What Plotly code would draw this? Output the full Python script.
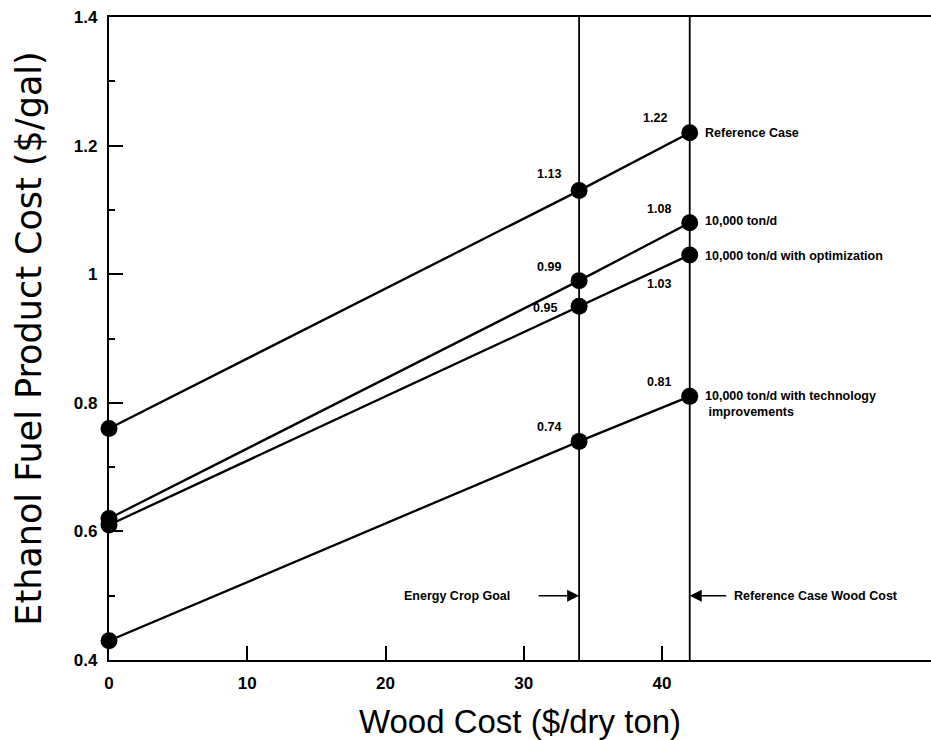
import plotly.graph_objects as go

# ---- data ----
wood_cost = [0, 34, 42]
reference_case = [0.76, 1.13, 1.22]
ton_10000 = [0.62, 0.99, 1.08]
ton_10000_opt = [0.61, 0.95, 1.03]
ton_10000_tech = [0.43, 0.74, 0.81]

series_names = ["Reference Case", "10,000 ton/d", "10,000 ton/d with optimization",
                "10,000 ton/d with technology<br>&nbsp;improvements"]
series_values = [reference_case, ton_10000, ton_10000_opt, ton_10000_tech]

x_tickvals = [0, 10, 20, 30, 40]
y_tickvals = [0.4, 0.6, 0.8, 1.0, 1.2, 1.4]
y_ticktext = ["0.4", "0.6", "0.8", "1", "1.2", "1.4"]
y_minor_tickvals = [0.5, 0.7, 0.9, 1.1, 1.3]

energy_crop_goal = 34
reference_wood_cost = 42

fig = go.Figure()

for name, vals in zip(series_names, series_values):
    fig.add_trace(go.Scatter(
        x=wood_cost, y=vals, mode="lines+markers", name=name,
        line=dict(color="black", width=2.3),
        marker=dict(color="black", size=17),
        showlegend=False, cliponaxis=False,
    ))

# vertical reference lines
for xv in [energy_crop_goal, reference_wood_cost]:
    fig.add_shape(type="line", x0=xv, x1=xv, y0=0, y1=1, xref="x", yref="paper",
                  line=dict(color="black", width=1.8), layer="below")

lab_font = dict(family="Liberation Sans, Arial", size=12.5, color="black", weight="bold")

# value labels: (series index, point index, xshift, yshift)
value_label_offsets = [
    (0, 1, -30, 17), (0, 2, -35, 15),
    (1, 1, -30, 14), (1, 2, -31, 14),
    (2, 1, -34, -2), (2, 2, -31, -29),
    (3, 1, -30, 14), (3, 2, -31, 14),
]
for si, pi, dx, dy in value_label_offsets:
    v = series_values[si][pi]
    fig.add_annotation(x=wood_cost[pi], y=v, text=f"{v:.2f}", showarrow=False,
                       xshift=dx, yshift=dy, font=lab_font)

# series labels
series_label_yshift = [0, 2, -1, -8]
for name, vals, dy in zip(series_names, series_values, series_label_yshift):
    fig.add_annotation(x=wood_cost[-1], y=vals[-1], text=name, showarrow=False,
                       xanchor="left", align="left", xshift=13, yshift=dy, font=lab_font)

# arrows
fig.add_annotation(x=energy_crop_goal, y=0.5, ax=-42, ay=0, text="", showarrow=True,
                   arrowhead=2, arrowsize=1.6, arrowwidth=1.5, arrowcolor="black")
fig.add_annotation(x=energy_crop_goal, y=0.5, text="Energy Crop Goal", showarrow=False,
                   xanchor="right", xshift=-67, font=lab_font)
fig.add_annotation(x=reference_wood_cost, y=0.5, ax=38, ay=0, text="", showarrow=True,
                   arrowhead=2, arrowsize=1.6, arrowwidth=1.5, arrowcolor="black")
fig.add_annotation(x=reference_wood_cost, y=0.5, text="Reference Case Wood Cost", showarrow=False,
                   xanchor="left", xshift=42, font=lab_font)

tick_font = dict(family="Liberation Sans, Arial", size=17, color="black", weight="bold")

fig.update_xaxes(
    range=[0, 59.45], tickvals=x_tickvals, ticks="inside", ticklen=14, tickwidth=1.8,
    tickcolor="black", showline=True, linecolor="black", linewidth=2.3, mirror=True,
    showgrid=False, zeroline=False, tickfont=tick_font, ticklabelstandoff=6,
    title=dict(text="Wood Cost ($/dry ton)",
               font=dict(family="Liberation Sans, Arial", size=33, color="black"),
               standoff=18),
)
fig.update_yaxes(
    range=[0.4, 1.4], tickvals=y_tickvals, ticktext=y_ticktext, ticks="inside",
    ticklen=14, tickwidth=1.8, tickcolor="black", showline=True, linecolor="black",
    linewidth=2.3, showgrid=False, zeroline=False, tickfont=tick_font, ticklabelstandoff=6,
    minor=dict(tickvals=y_minor_tickvals, ticks="inside", ticklen=6,
               tickwidth=1.5, tickcolor="black"),
    title=dict(text="Ethanol Fuel Product Cost ($/gal)",
               font=dict(family="DejaVu Sans", size=35, color="black"),
               standoff=22),
)

fig.update_layout(
    width=931, height=740, margin=dict(l=109, r=0, t=17, b=80, autoexpand=False),
    plot_bgcolor="white", paper_bgcolor="white",
)

fig.write_html("out.html", config={"displayModeBar": False},
               post_script="document.body.style.margin='0';document.body.style.overflow='hidden';")
